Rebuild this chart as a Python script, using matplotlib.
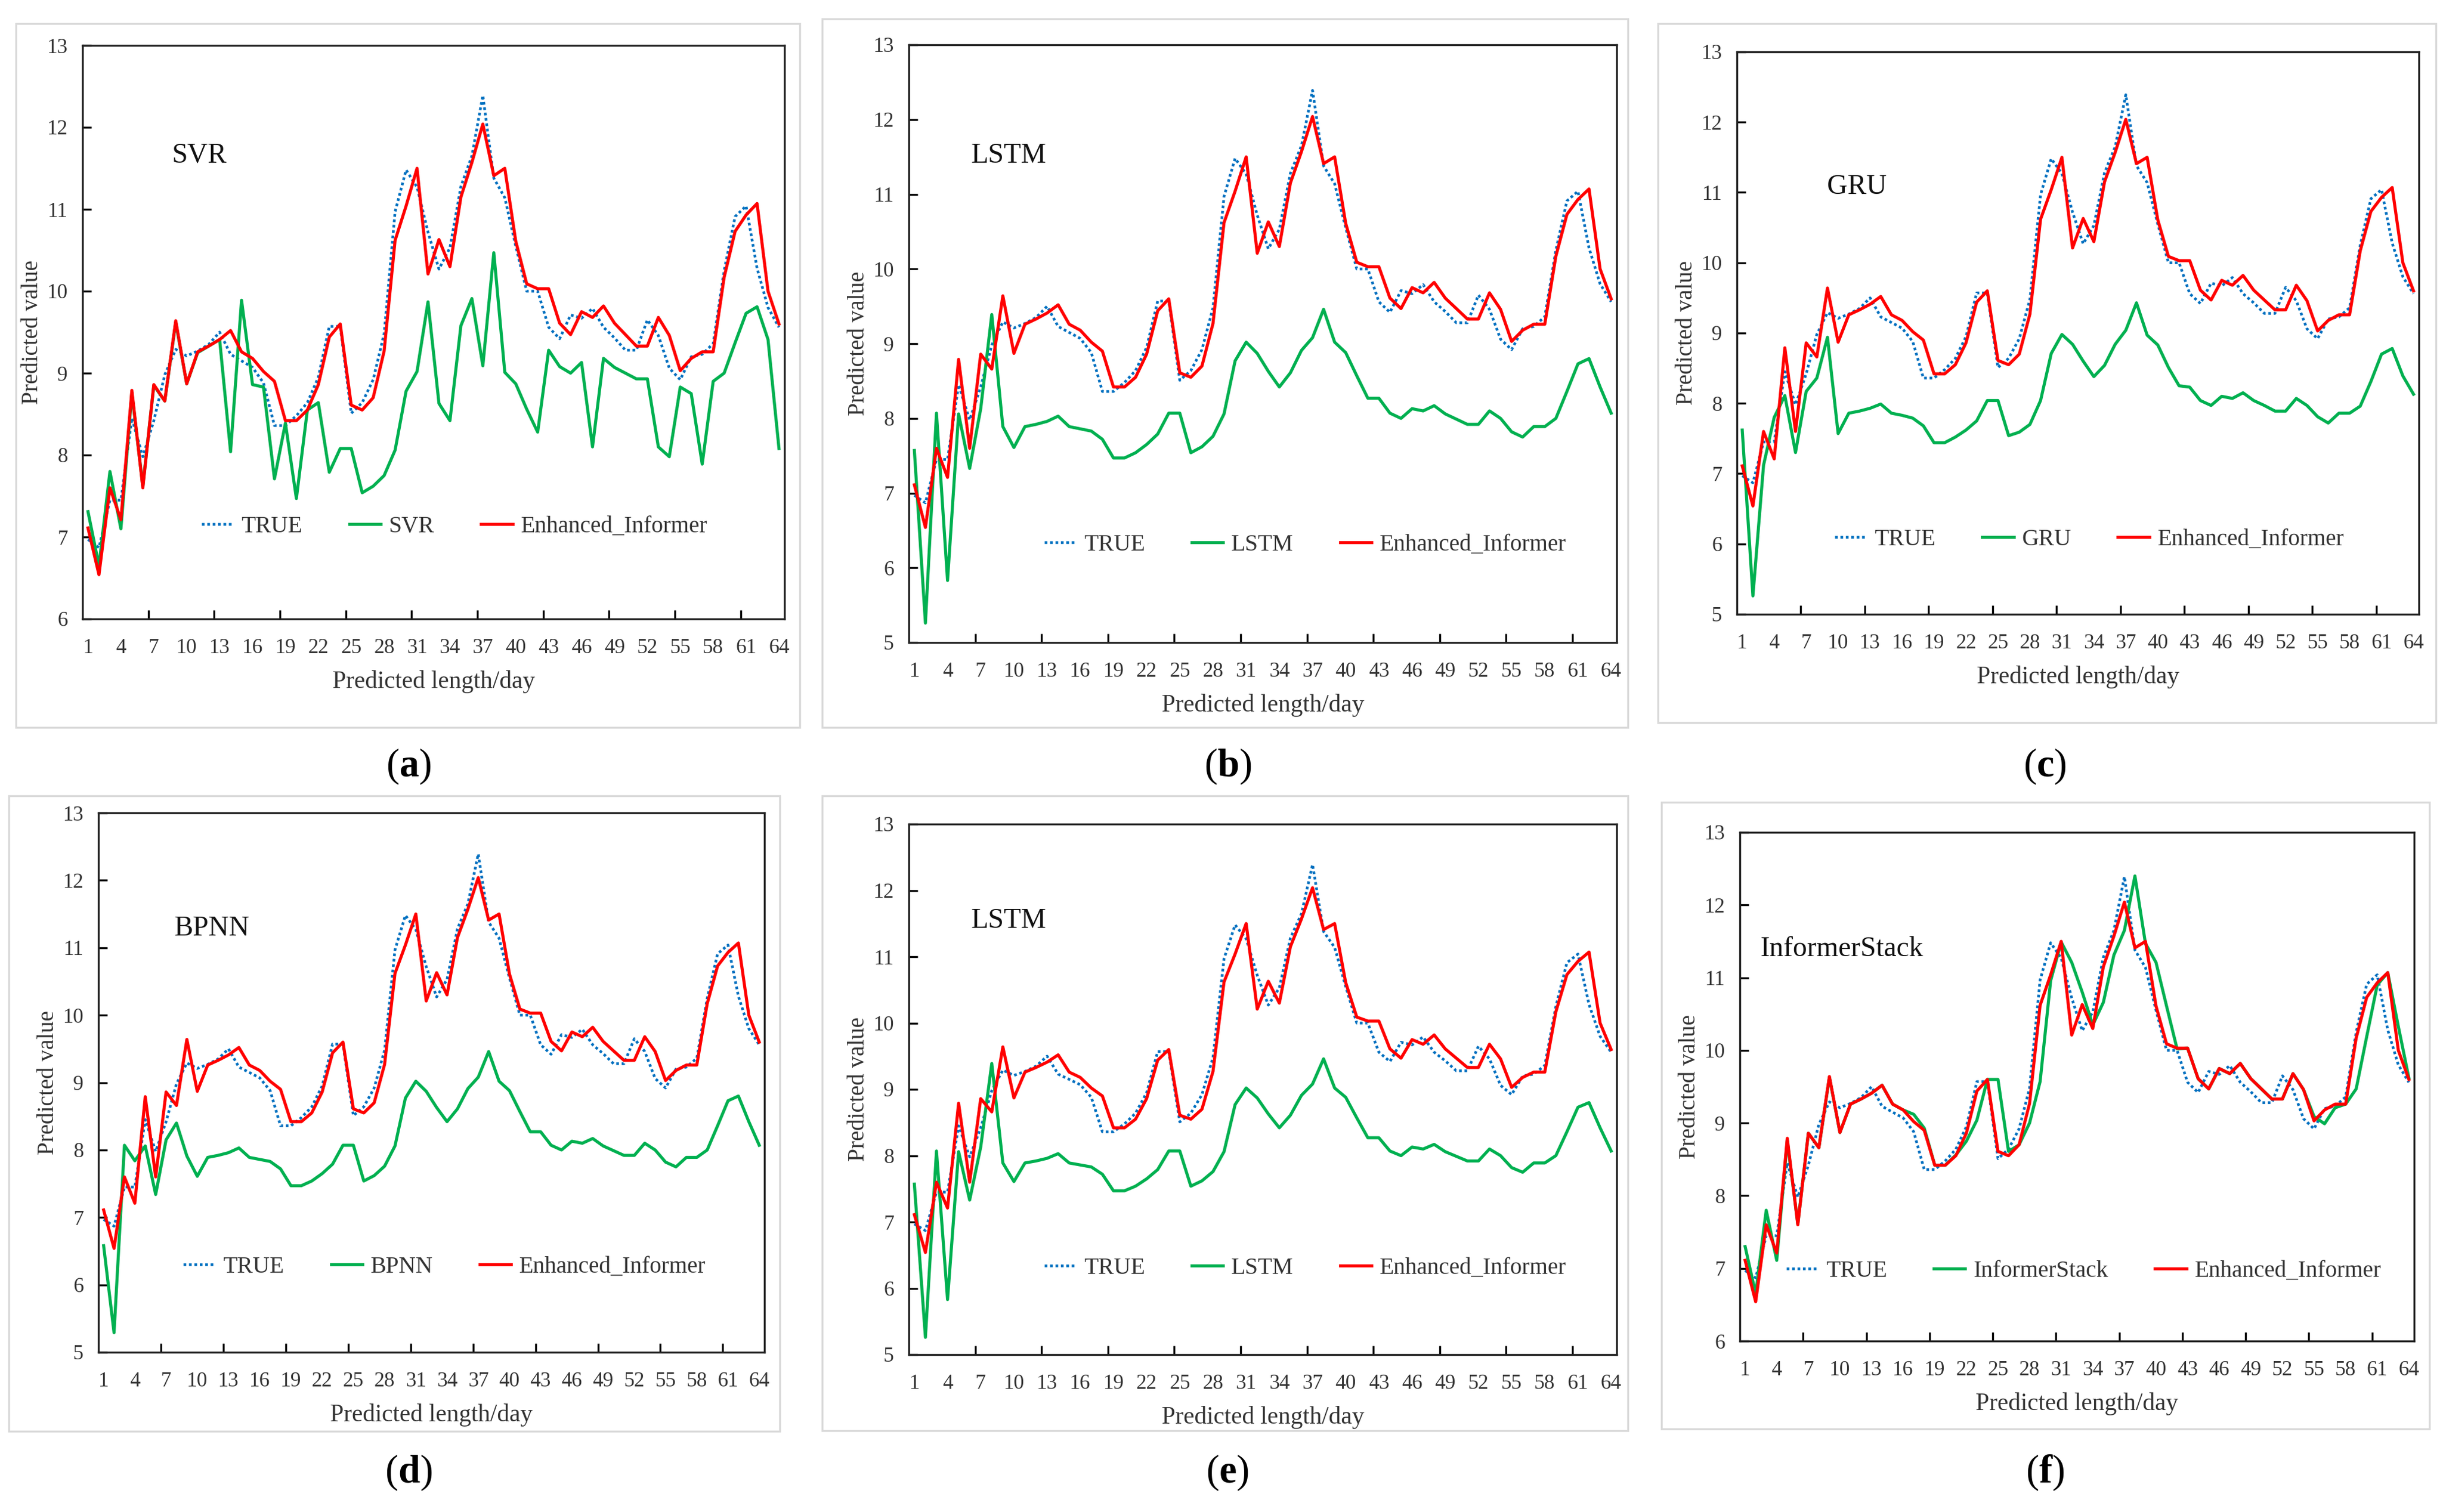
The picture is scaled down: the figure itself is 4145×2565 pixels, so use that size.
import matplotlib
matplotlib.use('Agg')
import matplotlib.pyplot as plt
import numpy as np
from matplotlib.patches import Rectangle

plt.rcParams['font.family'] = ['Liberation Serif', 'DejaVu Serif']
plt.rcParams['mathtext.fontset'] = 'custom'
plt.rcParams['mathtext.rm'] = 'Liberation Serif'
plt.rcParams['mathtext.bf'] = 'Liberation Serif:bold'

days = np.arange(1, 65)

true_vals = [6.97, 6.87, 7.45, 7.45, 8.45, 7.98, 8.42, 8.98, 9.29, 9.21,
             9.27, 9.35, 9.50, 9.23, 9.15, 9.07, 8.88, 8.36, 8.36, 8.48,
             8.64, 8.95, 9.57, 9.57, 8.51, 8.64, 8.92, 9.48, 10.97, 11.48,
             11.27, 10.72, 10.27, 10.53, 11.28, 11.65, 12.39, 11.38, 11.14, 10.55,
             10.00, 10.00, 9.56, 9.42, 9.71, 9.67, 9.79, 9.56, 9.43, 9.28,
             9.28, 9.65, 9.46, 9.06, 8.92, 9.20, 9.23, 9.36, 10.25, 10.91,
             11.04, 10.28, 9.80, 9.56]

enhanced_vals = [7.11, 6.54, 7.60, 7.21, 8.79, 7.60, 8.86, 8.66, 9.64, 8.87,
                 9.26, 9.33, 9.41, 9.52, 9.26, 9.18, 9.02, 8.90, 8.42, 8.42,
                 8.55, 8.86, 9.44, 9.60, 8.61, 8.55, 8.70, 9.27, 10.62, 11.04,
                 11.50, 10.21, 10.63, 10.30, 11.15, 11.57, 12.04, 11.41, 11.50, 10.61,
                 10.09, 10.03, 10.03, 9.61, 9.47, 9.75, 9.68, 9.82, 9.61, 9.47,
                 9.33, 9.33, 9.68, 9.46, 9.03, 9.18, 9.26, 9.26, 10.17, 10.73,
                 10.93, 11.07, 10.00, 9.60]

svr_vals = [7.31, 6.65, 7.80, 7.10, 8.76, 7.62, 8.85, 8.66, 9.62, 8.87,
            9.25, 9.33, 9.41, 8.04, 9.89, 8.86, 8.83, 7.71, 8.39, 7.47,
            8.55, 8.64, 7.79, 8.08, 8.08, 7.54, 7.62, 7.75, 8.06, 8.78,
            9.02, 9.87, 8.63, 8.42, 9.58, 9.91, 9.09, 10.47, 9.01, 8.87,
            8.56, 8.28, 9.28, 9.08, 9.00, 9.13, 8.10, 9.18, 9.07, 9.00,
            8.93, 8.93, 8.10, 7.98, 8.83, 8.75, 7.89, 8.90, 9.00, 9.37,
            9.73, 9.81, 9.41, 8.08]

lstm_vals = [7.57, 5.26, 8.07, 5.83, 8.06, 7.33, 8.13, 9.39, 7.89, 7.61,
             7.89, 7.92, 7.96, 8.03, 7.89, 7.86, 7.83, 7.72, 7.47, 7.47,
             7.54, 7.65, 7.79, 8.07, 8.07, 7.54, 7.62, 7.76, 8.06, 8.77,
             9.02, 8.87, 8.63, 8.42, 8.61, 8.91, 9.08, 9.46, 9.02, 8.88,
             8.57, 8.27, 8.27, 8.07, 8.00, 8.13, 8.10, 8.17, 8.06, 7.99,
             7.92, 7.92, 8.10, 8.00, 7.82, 7.75, 7.89, 7.89, 8.00, 8.36,
             8.73, 8.80, 8.42, 8.07]

gru_vals = [7.62, 5.26, 7.12, 7.80, 8.11, 7.30, 8.17, 8.36, 8.94, 7.57,
            7.86, 7.89, 7.93, 7.99, 7.86, 7.83, 7.79, 7.68, 7.44, 7.44,
            7.52, 7.62, 7.75, 8.04, 8.04, 7.54, 7.59, 7.70, 8.04, 8.71,
            8.98, 8.84, 8.60, 8.38, 8.54, 8.84, 9.04, 9.43, 8.97, 8.83,
            8.51, 8.25, 8.23, 8.04, 7.97, 8.10, 8.07, 8.15, 8.04, 7.97,
            7.89, 7.89, 8.07, 7.97, 7.81, 7.72, 7.86, 7.86, 7.96, 8.31,
            8.70, 8.78, 8.39, 8.13]

bpnn_vals = [6.58, 5.29, 8.07, 7.84, 8.06, 7.34, 8.15, 8.40, 7.91, 7.61,
             7.89, 7.92, 7.96, 8.03, 7.89, 7.86, 7.83, 7.72, 7.47, 7.47,
             7.54, 7.65, 7.79, 8.07, 8.07, 7.54, 7.62, 7.76, 8.06, 8.77,
             9.02, 8.87, 8.63, 8.42, 8.61, 8.91, 9.08, 9.46, 9.02, 8.88,
             8.57, 8.27, 8.27, 8.07, 8.00, 8.13, 8.10, 8.17, 8.06, 7.99,
             7.92, 7.92, 8.10, 8.00, 7.82, 7.75, 7.89, 7.89, 8.00, 8.36,
             8.73, 8.80, 8.42, 8.07]

stack_vals = [7.30, 6.65, 7.80, 7.11, 8.76, 7.61, 8.86, 8.66, 9.63, 8.87,
              9.26, 9.33, 9.41, 9.52, 9.26, 9.18, 9.12, 8.93, 8.42, 8.42,
              8.56, 8.75, 9.04, 9.60, 9.60, 8.61, 8.70, 9.00, 9.57, 10.96,
              11.49, 11.21, 10.80, 10.35, 10.66, 11.31, 11.65, 12.40, 11.47, 11.21,
              10.61, 10.02, 10.03, 9.61, 9.47, 9.75, 9.68, 9.82, 9.61, 9.47,
              9.33, 9.33, 9.68, 9.46, 9.09, 8.99, 9.21, 9.26, 9.47, 10.19,
              10.90, 11.07, 10.33, 9.62]

model_names = ['SVR', 'LSTM', 'GRU', 'BPNN', 'LSTM', 'InformerStack']
model_series = [svr_vals, lstm_vals, gru_vals, bpnn_vals, lstm_vals, stack_vals]
panel_tags = ['a', 'b', 'c', 'd', 'e', 'f']
y_lows = [6, 5, 5, 5, 5, 6]

W, H = 4145, 2565
fig = plt.figure(figsize=(W / 300, H / 300), dpi=300)
fig.patch.set_facecolor('white')

# axes boxes in pixels (left, top, right, bottom)
axes_boxes = [(140, 77, 1331, 1050), (1542, 76, 2743, 1090), (2947, 88, 4104, 1042),
              (167, 1379, 1297, 2294), (1542, 1398, 2743, 2298), (2952, 1412, 4096, 2275)]
frames = [(27, 40, 1357, 1234), (1395, 32, 2762, 1234), (2813, 40, 4133, 1226),
          (15, 1350, 1323, 2428), (1395, 1350, 2762, 2427), (2819, 1361, 4122, 2424)]
legend_pos = [(0.53, 0.161), (0.56, 0.163), (0.517, 0.133),
              (0.52, 0.158), (0.56, 0.163), (0.51, 0.137)]
name_pos = [(0.127, 0.808), (0.088, 0.815), (0.132, 0.76),
            (0.114, 0.786), (0.088, 0.818), (0.03, 0.77)]
tag_pos = [(693, 1300), (2083, 1300), (3470, 1300),
           (693, 2498), (2083, 2498), (3470, 2498)]

C_TRUE = '#0070C0'
C_MODEL = '#00B050'
C_ENH = '#FF0000'
TXT = '#333333'

for k in range(6):
    L, T, R, B = axes_boxes[k]
    ax = fig.add_axes([L / W, 1 - B / H, (R - L) / W, (B - T) / H])
    ax.plot(days, true_vals, color=C_TRUE, lw=1.1, linestyle=(0, (1, 1)),
            dash_capstyle='butt', label='TRUE')
    ax.plot(days, model_series[k], color=C_MODEL, lw=1.25, label=model_names[k])
    ax.plot(days, enhanced_vals, color=C_ENH, lw=1.25, label='Enhanced_Informer')
    ax.set_xlim(0.5, 64.5)
    ax.set_ylim(y_lows[k], 13)
    ax.set_xticks(np.arange(1, 65, 3))
    ax.set_xticks(np.arange(6.5, 64, 6), minor=True)
    ax.set_yticks(np.arange(y_lows[k], 14, 1))
    ax.tick_params(axis='x', which='major', length=0, pad=8, labelsize=8.5, labelcolor=TXT)
    ax.tick_params(axis='x', which='minor', direction='in', length=3.5, width=0.8)
    ax.tick_params(axis='y', which='major', direction='in', length=3.5, width=0.8,
                   pad=6, labelsize=8.5, labelcolor=TXT)
    for s in ax.spines.values():
        s.set_linewidth(0.8)
        s.set_color('#222222')
    ax.set_xlabel('Predicted length/day', fontsize=10, color=TXT, labelpad=5)
    ax.set_ylabel('Predicted value', fontsize=9.5, color=TXT, labelpad=1.5)
    leg = ax.legend(loc='center', bbox_to_anchor=legend_pos[k], ncol=3, frameon=False,
                    fontsize=9.5, handlelength=1.35, handletextpad=0.35,
                    columnspacing=2.0, borderaxespad=0)
    for t in leg.get_texts():
        t.set_color(TXT)
    ax.text(name_pos[k][0], name_pos[k][1], model_names[k], transform=ax.transAxes,
            fontsize=11.5, ha='left', va='center', color='#111111')

    fL, fT, fR, fB = frames[k]
    fig.add_artist(Rectangle((fL / W, 1 - fB / H), (fR - fL) / W, (fB - fT) / H,
                             transform=fig.transFigure, fill=False,
                             ec='#d9d9d9', lw=0.8))
    tx, ty = tag_pos[k]
    fig.text(tx / W, 1 - ty / H, r'($\mathbf{' + panel_tags[k] + r'}$)',
             ha='center', va='center', fontsize=16, color='black')

fig.savefig('out.png', dpi=300, facecolor='white')
